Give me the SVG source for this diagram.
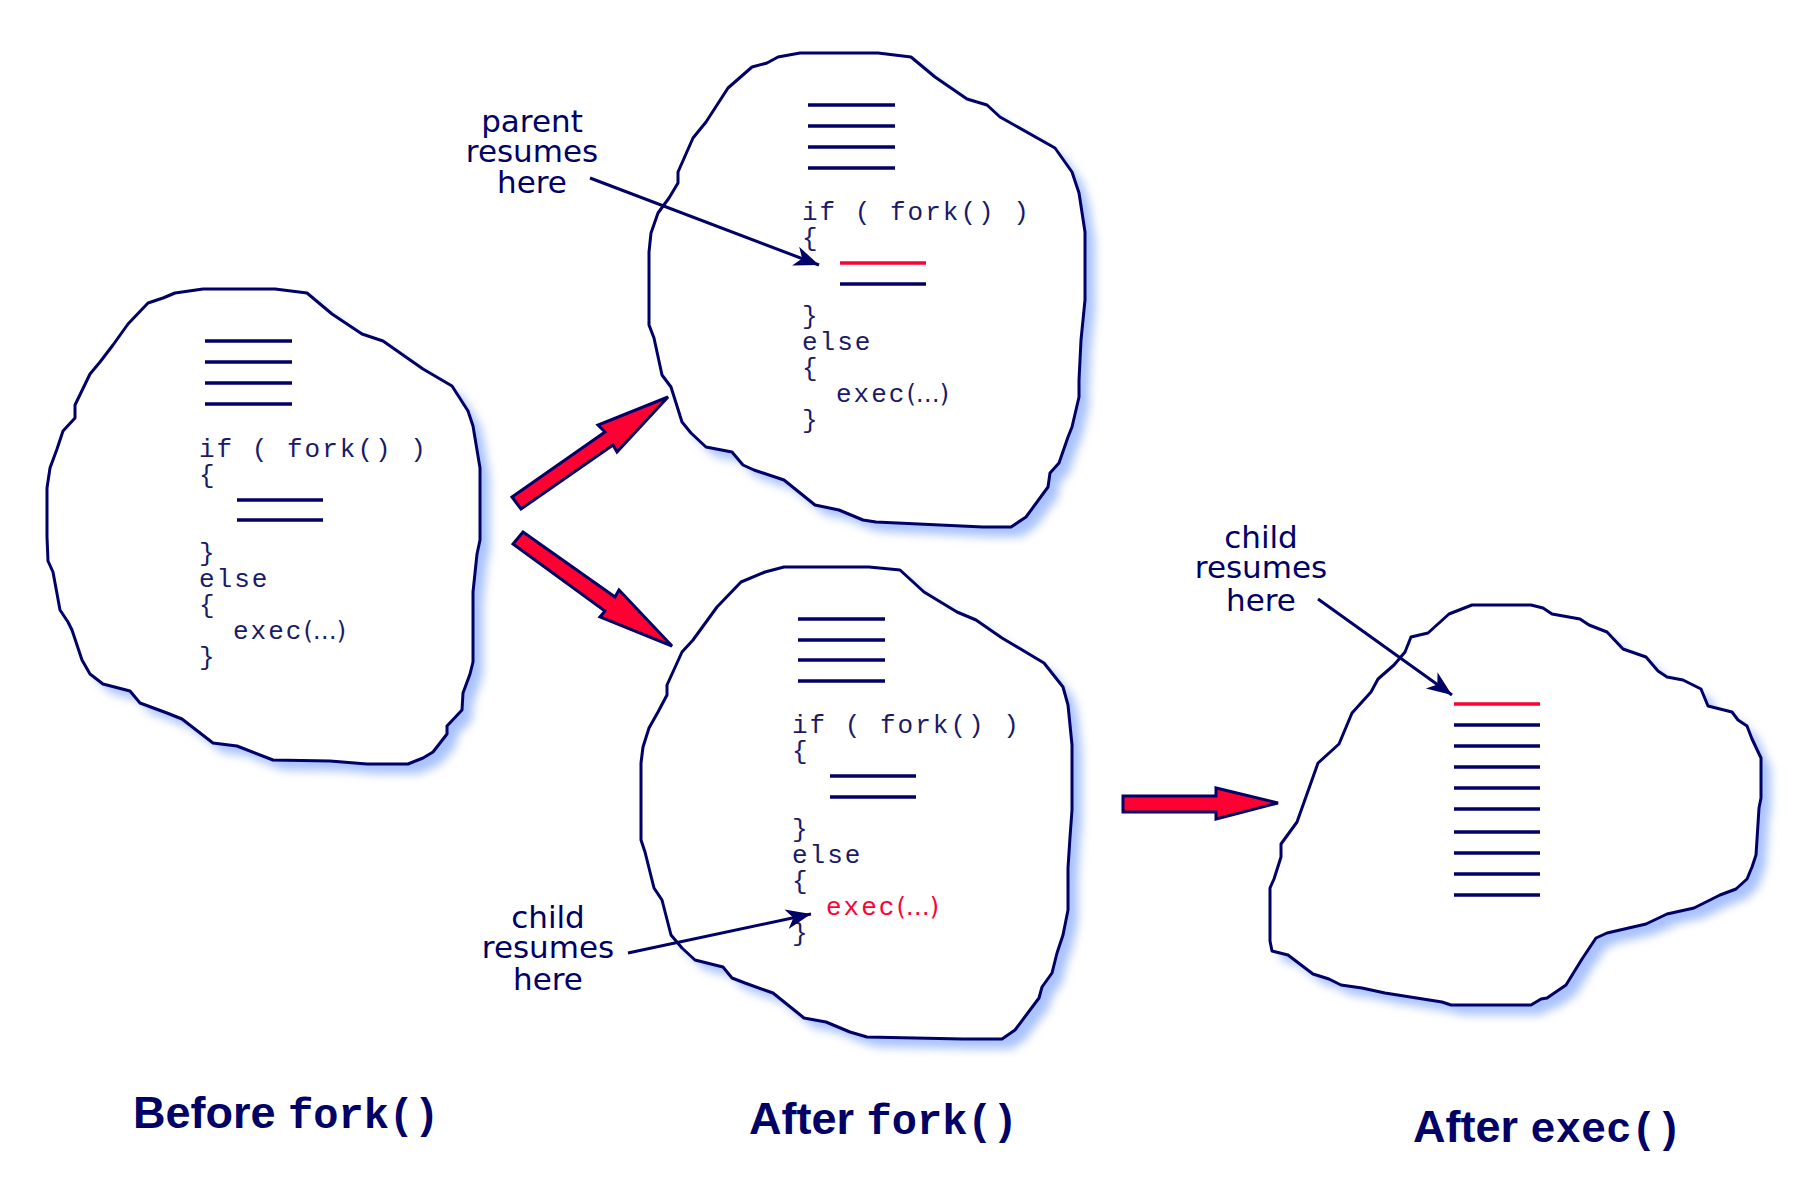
<svg xmlns="http://www.w3.org/2000/svg" width="1816" height="1184" viewBox="0 0 1816 1184">
<style>
.blob{fill:#ffffff;stroke:#000066;stroke-width:3;stroke-linejoin:round}
.shadow{fill:#a9c2ff;filter:url(#soft)}
.bar{stroke:#000066;stroke-width:3.5}
.red{stroke:#ff0033}
.code{font-family:"Liberation Mono",monospace;font-size:26px;fill:#1a1a66;letter-spacing:2px}
.paren{font-family:"DejaVu Sans",sans-serif;font-size:24px;letter-spacing:0}
.redtext{fill:#ff0033}
.label{font-family:"DejaVu Sans",sans-serif;font-size:31px;fill:#000066;text-anchor:middle}
.fat{fill:#ff0033;stroke:#000066;stroke-width:3;stroke-linejoin:miter}
.pointer{stroke:#000066;stroke-width:3;fill:none;marker-end:url(#head)}
.title{font-family:"Liberation Sans",sans-serif;font-weight:bold;font-size:45px;fill:#000066}
.tmono{font-family:"Liberation Mono",monospace;font-weight:bold;font-size:42px}
</style>
<defs>
<filter id="soft" x="-10%" y="-10%" width="130%" height="130%"><feGaussianBlur stdDeviation="5"/></filter>
<marker id="head" viewBox="-26 -12 28 24" refX="0" refY="0" markerWidth="28" markerHeight="24" markerUnits="userSpaceOnUse" orient="auto"><path d="M0,0 L-25,-10 L-18,0 L-25,10 Z" fill="#000066"/></marker>
</defs>
<rect width="1816" height="1184" fill="#ffffff"/>

<g id="before-fork">
<path class="shadow" transform="translate(10,10)" d="M203,289 L275,289 L307,293 L332,314 L362,334 L383,341 L423,369 L452,386 L468,411 L473,426 L480,468 L480,540 L477,554 L473,592 L473,662 L470,674 L463,693 L462,710 L447,726 L447,734 L433,752 L423,758 L408,764 L367,764 L330,761 L273,760 L237,746 L213,743 L182,719 L167,713 L140,703 L130,691 L103,684 L90,674 L82,660 L72,630 L68,622 L60,610 L53,572 L48,561 L47,537 L47,488 L50,468 L57,449 L63,431 L75,418 L75,405 L90,374 L100,362 L113,345 L128,324 L148,303 L163,298 L175,293 Z"/>
<path class="blob" d="M203,289 L275,289 L307,293 L332,314 L362,334 L383,341 L423,369 L452,386 L468,411 L473,426 L480,468 L480,540 L477,554 L473,592 L473,662 L470,674 L463,693 L462,710 L447,726 L447,734 L433,752 L423,758 L408,764 L367,764 L330,761 L273,760 L237,746 L213,743 L182,719 L167,713 L140,703 L130,691 L103,684 L90,674 L82,660 L72,630 L68,622 L60,610 L53,572 L48,561 L47,537 L47,488 L50,468 L57,449 L63,431 L75,418 L75,405 L90,374 L100,362 L113,345 L128,324 L148,303 L163,298 L175,293 Z"/>
<line class="bar" x1="205" y1="341" x2="292" y2="341"/>
<line class="bar" x1="205" y1="362" x2="292" y2="362"/>
<line class="bar" x1="205" y1="383" x2="292" y2="383"/>
<line class="bar" x1="205" y1="404" x2="292" y2="404"/>
<text class="code" x="199" y="457">if ( fork() )</text>
<text class="code" x="199" y="483">{</text>
<line class="bar" x1="237" y1="500" x2="323" y2="500"/>
<line class="bar" x1="237" y1="520" x2="323" y2="520"/>
<text class="code" x="199" y="561">}</text>
<text class="code" x="199" y="587">else</text>
<text class="code" x="199" y="613">{</text>
<text class="code" x="233" y="639">exec<tspan class="paren">(…)</tspan></text>
<text class="code" x="199" y="665">}</text>
</g>

<g id="after-fork-parent">
<path class="shadow" transform="translate(10,10)" d="M778,57 L800,53 L878,53 L911,57 L935,77 L967,99 L987,105 L1000,117 L1055,148 L1072,172 L1079,193 L1085,232 L1085,300 L1081,340 L1079,380 L1079,397 L1072,427 L1068,437 L1059,463 L1050,473 L1048,487 L1026,517 L1011,527 L983,527 L876,522 L863,520 L839,510 L815,505 L784,480 L754,470 L743,465 L732,452 L706,447 L691,433 L682,422 L671,387 L662,375 L654,338 L649,325 L649,252 L651,233 L658,213 L669,198 L678,183 L678,172 L693,138 L706,122 L728,88 L752,67 L767,63 Z"/>
<path class="blob" d="M778,57 L800,53 L878,53 L911,57 L935,77 L967,99 L987,105 L1000,117 L1055,148 L1072,172 L1079,193 L1085,232 L1085,300 L1081,340 L1079,380 L1079,397 L1072,427 L1068,437 L1059,463 L1050,473 L1048,487 L1026,517 L1011,527 L983,527 L876,522 L863,520 L839,510 L815,505 L784,480 L754,470 L743,465 L732,452 L706,447 L691,433 L682,422 L671,387 L662,375 L654,338 L649,325 L649,252 L651,233 L658,213 L669,198 L678,183 L678,172 L693,138 L706,122 L728,88 L752,67 L767,63 Z"/>
<line class="bar" x1="808" y1="105" x2="895" y2="105"/>
<line class="bar" x1="808" y1="126" x2="895" y2="126"/>
<line class="bar" x1="808" y1="147" x2="895" y2="147"/>
<line class="bar" x1="808" y1="168" x2="895" y2="168"/>
<text class="code" x="802" y="220">if ( fork() )</text>
<text class="code" x="802" y="246">{</text>
<line class="bar red" x1="840" y1="263" x2="926" y2="263"/>
<line class="bar" x1="840" y1="284" x2="926" y2="284"/>
<text class="code" x="802" y="324">}</text>
<text class="code" x="802" y="350">else</text>
<text class="code" x="802" y="376">{</text>
<text class="code" x="836" y="402">exec<tspan class="paren">(…)</tspan></text>
<text class="code" x="802" y="428">}</text>
</g>

<g id="after-fork-child">
<path class="shadow" transform="translate(10,10)" d="M765,572 L784,567 L869,567 L900,570 L924,592 L957,612 L976,620 L1002,638 L1044,663 L1063,687 L1068,705 L1072,745 L1072,810 L1070,837 L1068,868 L1068,910 L1063,935 L1057,953 L1052,973 L1042,987 L1039,998 L1015,1030 L1002,1039 L963,1039 L867,1037 L850,1032 L826,1022 L804,1018 L773,993 L745,983 L732,978 L723,967 L695,960 L682,948 L671,935 L662,900 L654,888 L645,852 L641,840 L641,763 L643,747 L649,728 L658,712 L667,695 L667,685 L682,652 L693,640 L717,607 L741,582 Z"/>
<path class="blob" d="M765,572 L784,567 L869,567 L900,570 L924,592 L957,612 L976,620 L1002,638 L1044,663 L1063,687 L1068,705 L1072,745 L1072,810 L1070,837 L1068,868 L1068,910 L1063,935 L1057,953 L1052,973 L1042,987 L1039,998 L1015,1030 L1002,1039 L963,1039 L867,1037 L850,1032 L826,1022 L804,1018 L773,993 L745,983 L732,978 L723,967 L695,960 L682,948 L671,935 L662,900 L654,888 L645,852 L641,840 L641,763 L643,747 L649,728 L658,712 L667,695 L667,685 L682,652 L693,640 L717,607 L741,582 Z"/>
<line class="bar" x1="798" y1="619" x2="885" y2="619"/>
<line class="bar" x1="798" y1="640" x2="885" y2="640"/>
<line class="bar" x1="798" y1="660" x2="885" y2="660"/>
<line class="bar" x1="798" y1="681" x2="885" y2="681"/>
<text class="code" x="792" y="733">if ( fork() )</text>
<text class="code" x="792" y="759">{</text>
<line class="bar" x1="830" y1="776" x2="916" y2="776"/>
<line class="bar" x1="830" y1="797" x2="916" y2="797"/>
<text class="code" x="792" y="837">}</text>
<text class="code" x="792" y="863">else</text>
<text class="code" x="792" y="889">{</text>
<text class="code redtext" x="826" y="915">exec<tspan class="paren">(…)</tspan></text>
<text class="code" x="792" y="941">}</text>
</g>

<g id="after-exec">
<path class="shadow" transform="translate(10,10)" d="M1449,614 L1472,605 L1531,605 L1543,608 L1552,614 L1580,619 L1589,625 L1607,632 L1623,649 L1646,657 L1658,671 L1667,677 L1683,680 L1701,689 L1708,706 L1732,712 L1738,720 L1747,726 L1752,739 L1761,758 L1761,798 L1759,808 L1756,855 L1752,867 L1747,879 L1736,889 L1720,895 L1694,908 L1667,914 L1646,924 L1607,933 L1596,938 L1582,959 L1566,985 L1547,998 L1541,999 L1531,1005 L1451,1005 L1442,1002 L1385,993 L1362,988 L1341,985 L1329,979 L1313,974 L1288,955 L1272,951 L1270,941 L1270,888 L1274,879 L1281,857 L1281,844 L1297,822 L1318,763 L1339,744 L1352,713 L1371,692 L1378,679 L1394,665 L1405,652 L1411,637 L1428,633 Z"/>
<path class="blob" d="M1449,614 L1472,605 L1531,605 L1543,608 L1552,614 L1580,619 L1589,625 L1607,632 L1623,649 L1646,657 L1658,671 L1667,677 L1683,680 L1701,689 L1708,706 L1732,712 L1738,720 L1747,726 L1752,739 L1761,758 L1761,798 L1759,808 L1756,855 L1752,867 L1747,879 L1736,889 L1720,895 L1694,908 L1667,914 L1646,924 L1607,933 L1596,938 L1582,959 L1566,985 L1547,998 L1541,999 L1531,1005 L1451,1005 L1442,1002 L1385,993 L1362,988 L1341,985 L1329,979 L1313,974 L1288,955 L1272,951 L1270,941 L1270,888 L1274,879 L1281,857 L1281,844 L1297,822 L1318,763 L1339,744 L1352,713 L1371,692 L1378,679 L1394,665 L1405,652 L1411,637 L1428,633 Z"/>
<line class="bar red" x1="1454" y1="704" x2="1540" y2="704"/>
<line class="bar" x1="1454" y1="725" x2="1540" y2="725"/>
<line class="bar" x1="1454" y1="746" x2="1540" y2="746"/>
<line class="bar" x1="1454" y1="767" x2="1540" y2="767"/>
<line class="bar" x1="1454" y1="788" x2="1540" y2="788"/>
<line class="bar" x1="1454" y1="809" x2="1540" y2="809"/>
<line class="bar" x1="1454" y1="832" x2="1540" y2="832"/>
<line class="bar" x1="1454" y1="853" x2="1540" y2="853"/>
<line class="bar" x1="1454" y1="874" x2="1540" y2="874"/>
<line class="bar" x1="1454" y1="895" x2="1540" y2="895"/>
</g>

<g id="label-parent">
<text class="label" x="532" y="132">parent</text>
<text class="label" x="532" y="162">resumes</text>
<text class="label" x="532" y="193">here</text>
</g>
<g id="label-child-1">
<text class="label" x="548" y="928">child</text>
<text class="label" x="548" y="958">resumes</text>
<text class="label" x="548" y="990">here</text>
</g>
<g id="label-child-2">
<text class="label" x="1261" y="548">child</text>
<text class="label" x="1261" y="578">resumes</text>
<text class="label" x="1261" y="611">here</text>
</g>

<g id="connectors">
<polygon class="fat" points="512,497 605,432 598,425 668,397 617,452 613,445 521,509"/>
<polygon class="fat" points="523,532 615,597 619,590 672,646 600,617 605,611 513,544"/>
<polygon class="fat" points="1123,796 1216,796 1216,788 1278,803 1216,819 1216,812 1123,812"/>
<line class="pointer" x1="590" y1="178" x2="819" y2="265"/>
<line class="pointer" x1="628" y1="953" x2="811" y2="914"/>
<line class="pointer" x1="1318" y1="599" x2="1452" y2="695"/>
</g>

<g id="titles">
<text class="title" x="133" y="1128">Before <tspan class="tmono">fork()</tspan></text>
<text class="title" x="749" y="1134">After <tspan class="tmono">fork()</tspan></text>
<text class="title" x="1413" y="1142">After <tspan class="tmono">exec()</tspan></text>
</g>
</svg>
